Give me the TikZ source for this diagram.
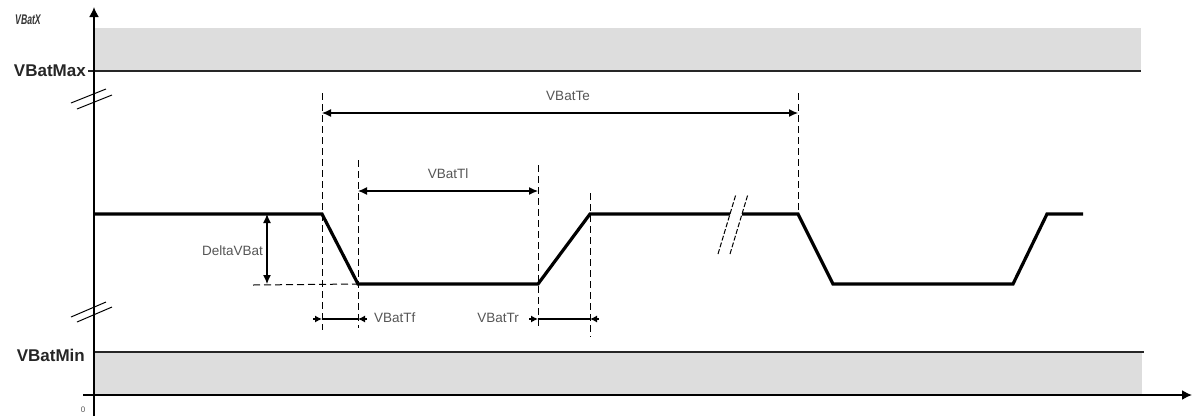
\documentclass[tikz,border=0pt]{standalone}
\usepackage{fontspec}
\setmainfont{Liberation Sans}
\usetikzlibrary{arrows.meta}
\definecolor{band}{HTML}{DDDDDD}
\definecolor{lblgray}{HTML}{555555}
\begin{document}
\begin{tikzpicture}[x=1pt,y=-1pt,
  axis/.style={line width=1.6pt, black},
  bandline/.style={line width=1.4pt, black!85},
  sig/.style={line width=3.2pt, line join=miter, line cap=butt},
  guide/.style={line width=1pt, dash pattern=on 7pt off 4pt},
  brk/.style={line width=1pt, dash pattern=on 5pt off 2pt},
  dim/.style={line width=1.2pt},
  bigtip/.style={-{Latex[length=10pt,width=10pt]}},
  dimboth/.style={{Latex[length=9pt,width=8pt]}-{Latex[length=9pt,width=8pt]}},
  smalltip/.style={-{Latex[length=7pt,width=7pt]}},
  lbl/.style={font=\fontsize{13.5}{15}\selectfont, text=lblgray, inner sep=0pt},
  big/.style={font=\fontsize{17}{20}\selectfont\bfseries, text=black!85, inner sep=0pt},
]
\useasboundingbox (0,0) rectangle (1193,416);

% bands
\fill[band] (94,28) rectangle (1141,71);
\draw[bandline] (88,71) coordinate (maxl) -- (1141,71) coordinate (maxr);
\fill[band] (94,352) rectangle (1142,395);
\draw[bandline] (94,352) coordinate (minl) -- (1144,352) coordinate (minr);

% axes
\coordinate (ybot) at (94,416);
\coordinate (ytop) at (94,7);
\coordinate (xl) at (83,395);
\coordinate (xr) at (1192,395);
\draw[axis, bigtip] (ybot) -- (ytop);
\draw[axis, bigtip] (xl) -- (xr);

% axis break marks
\draw[line width=1pt] (71,103) -- (106,89);
\draw[line width=1pt] (77,109) -- (112,95);
\draw[line width=1pt] (71,317) -- (106,302);
\draw[line width=1pt] (77,322) -- (112,307);

% labels on axis
\node[font=\fontsize{14}{15}\selectfont\bfseries\itshape, xscale=0.62, text=black!80, inner sep=0pt] (vbatx) at (28,20) {VBatX};
\node[big, anchor=east] (vbatmax) at (86,71) {VBatMax};
\node[big, anchor=east] (vbatmin) at (85,355) {VBatMin};
\node[font=\fontsize{8}{9}\selectfont, text=lblgray, inner sep=0pt] (zero) at (83,410) {0};

% signal points
\coordinate (s0) at (94,214);
\coordinate (f1a) at (322,214);
\coordinate (f1b) at (358,284);
\coordinate (r1a) at (538,284);
\coordinate (r1b) at (590,214);
\coordinate (g1) at (730,214);
\coordinate (g2) at (742,214);
\coordinate (f2a) at (798,214);
\coordinate (f2b) at (833,284);
\coordinate (r2a) at (1013,284);
\coordinate (r2b) at (1047,214);
\coordinate (send) at (1083,214);
\draw[sig] (s0) -- (f1a) -- (f1b) -- (r1a) -- (r1b) -- (g1);
\draw[sig] (g2) -- (f2a) -- (f2b) -- (r2a) -- (r2b) -- (send);

% time break marks
\draw[brk] (718,254) -- (736,194);
\draw[brk] (730,254) -- (748,194);

% dashed guides
\draw[guide] (322,93) coordinate (ga1) -- (322,330) coordinate (ga2);
\draw[guide] (358,160) coordinate (gb1) -- (358,328) coordinate (gb2);
\draw[guide] (538,165) coordinate (gc1) -- (538,328) coordinate (gc2);
\draw[guide] (590,193) coordinate (gd1) -- (590,337) coordinate (gd2);
\draw[guide] (798,93) coordinate (ge1) -- (f2a);
\draw[guide] (253,285) coordinate (dh1) -- (f1b);

% VBatTe
\coordinate (te1) at (322,113);
\coordinate (te2) at (798,113);
\draw[dim, dimboth] (te1) -- (te2);
\node[lbl] (vbatte) at (568,96) {VBatTe};

% VBatTl
\coordinate (tl1) at (358,191);
\coordinate (tl2) at (538,191);
\draw[dim, dimboth] (tl1) -- (tl2);
\node[lbl] (vbattl) at (448,174) {VBatTl};

% DeltaVBat
\coordinate (dv1) at (267,214);
\coordinate (dv2) at (267,284);
\draw[dim, dimboth] (dv1) -- (dv2);
\node[lbl, anchor=east] (deltav) at (263,251) {DeltaVBat};

% VBatTf
\coordinate (tf0) at (313,319);
\coordinate (tf1) at (322,319);
\coordinate (tf2) at (358,319);
\coordinate (tf3) at (367,319);
\draw[dim] (tf1) -- (tf2);
\draw[dim, smalltip] (tf0) -- (tf1);
\draw[dim, smalltip] (tf3) -- (tf2);
\node[lbl, anchor=west] (vbattf) at (374,318) {VBatTf};

% VBatTr
\coordinate (tr0) at (529,319);
\coordinate (tr1) at (538,319);
\coordinate (tr2) at (590,319);
\coordinate (tr3) at (599,319);
\draw[dim] (tr1) -- (tr2);
\draw[dim, smalltip] (tr0) -- (tr1);
\draw[dim, smalltip] (tr3) -- (tr2);
\node[lbl, anchor=east] (vbattr) at (519,318) {VBatTr};
\end{tikzpicture}
\end{document}
